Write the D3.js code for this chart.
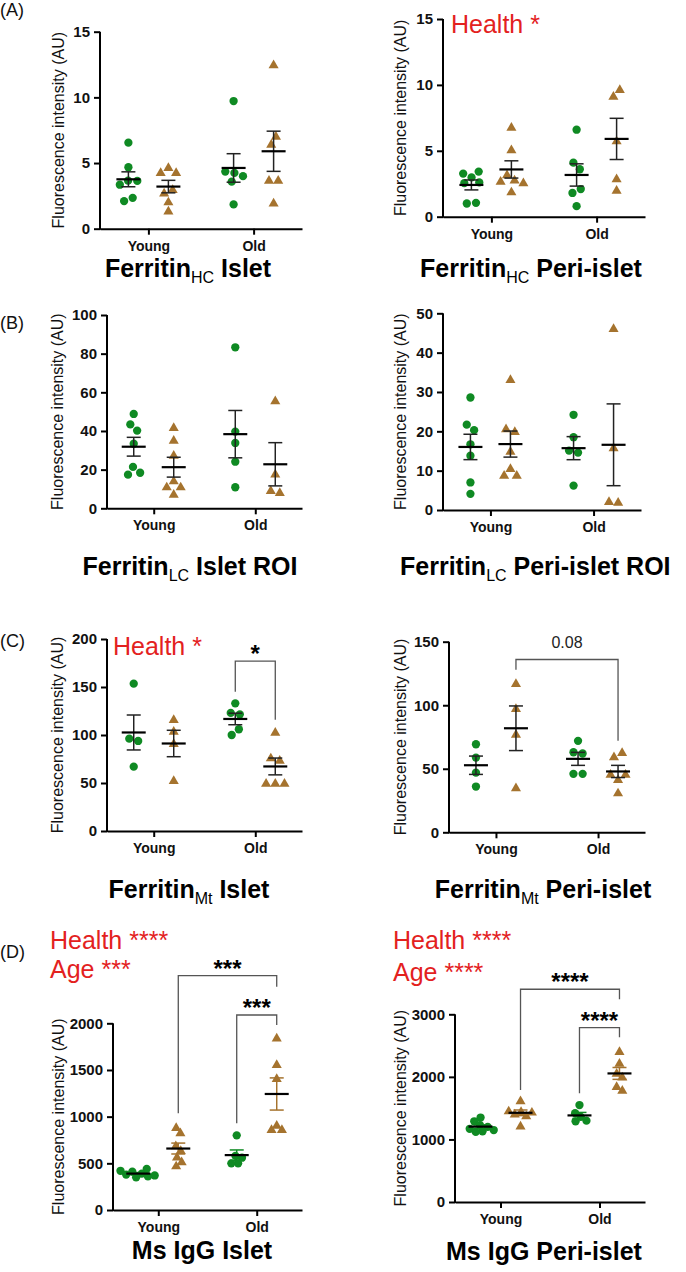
<!DOCTYPE html>
<html>
<head>
<meta charset="utf-8">
<script src="https://cdn.jsdelivr.net/npm/d3@7/dist/d3.min.js"></script>
<style>
  body { margin: 0; background: #fff; }
  svg { display: block; font-family: Arial, "Liberation Sans", sans-serif; }
</style>
</head>
<body>
<svg id="fig" width="686" height="1272"></svg>
<script>
const categories = ['Young', 'Old'];
const groups = ['Healthy', 'T2D'];

// (A) Ferritin HC, islet
const hcIsletYoungHealthy = [6.55, 4.68, 3.66, 3.64, 3.35, 2.35, 2.1];
const hcIsletYoungT2D = [4.68, 4.3, 4.3, 3.0, 2.74, 2.06, 1.37];
const hcIsletOldHealthy = [9.72, 4.35, 4.25, 4.0, 3.58, 1.85];
const hcIsletOldT2D = [12.5, 7.05, 6.45, 3.7, 3.7, 1.98];
// (A) Ferritin HC, peri-islet
const hcPeriYoungHealthy = [3.42, 3.27, 2.98, 2.6, 2.55, 1.05, 1.0];
const hcPeriYoungT2D = [6.8, 5.1, 3.2, 2.8, 2.7, 2.6, 1.9];
const hcPeriOldHealthy = [6.6, 4.1, 3.6, 2.1, 1.8, 0.8];
const hcPeriOldT2D = [9.66, 9.16, 5.77, 2.9, 2.02];
// (B) Ferritin LC, islet ROI
const lcIsletYoungHealthy = [48.8, 43.4, 40.2, 33.4, 21.4, 18.4, 17.4];
const lcIsletYoungT2D = [41.9, 35.3, 27.6, 14.3, 11.2, 11.2, 7.4];
const lcIsletOldHealthy = [83.3, 39.7, 33.8, 24.1, 10.9];
const lcIsletOldT2D = [55.7, 17.8, 9.3, 8.3];
// (B) Ferritin LC, peri-islet ROI
const lcPeriYoungHealthy = [28.6, 21.7, 20.3, 16.7, 13.8, 7.0, 4.1];
const lcPeriYoungT2D = [33.2, 20.7, 20.0, 15.0, 10.6, 8.9, 8.9];
const lcPeriOldHealthy = [24.2, 18.5, 15.1, 14.6, 6.2];
const lcPeriOldT2D = [46.2, 15.9, 2.2, 2.0];
// (C) Ferritin Mt, islet
const mtIsletYoungHealthy = [153.5, 96.2, 93.8, 67];
const mtIsletYoungT2D = [116.3, 104.2, 91.3, 52.8];
const mtIsletOldHealthy = [133, 123, 121.5, 106, 100];
const mtIsletOldT2D = [103, 76.4, 74, 50, 50, 50];
// (C) Ferritin Mt, peri-islet
const mtPeriYoungHealthy = [69.3, 58.8, 47, 36];
const mtPeriYoungT2D = [117.3, 97.6, 77.4, 35.2];
const mtPeriOldHealthy = [72, 63, 62, 46, 46];
const mtPeriOldT2D = [63, 59.6, 45.9, 45.9, 41.7, 31.2];
// (D) Ms IgG, islet
const igIsletYoungHealthy = [440, 420, 410, 390, 380, 370, 360, 350];
const igIsletYoungT2D = [886, 829, 690, 640, 571, 518, 475];
const igIsletOldHealthy = [800, 580, 560, 500, 500];
const igIsletOldT2D = [1846, 1561, 1411, 911, 864, 864];
// (D) Ms IgG, peri-islet
const igPeriYoungHealthy = [1350, 1290, 1230, 1200, 1170, 1150, 1130, 1120];
const igPeriYoungT2D = [1620, 1460, 1450, 1440, 1410, 1380, 1220];
const igPeriOldHealthy = [1550, 1420, 1360, 1300, 1290];
const igPeriOldT2D = [2410, 2220, 2060, 2000, 1850, 1790];

// significance brackets: [fromCat, fromGroup, toCat, toGroup, top, leftEnd, rightEnd, label]
const mtIsletBrackets = [['Old', 'Healthy', 'Old', 'T2D', 177, 145, 116, '*']];
const mtPeriBrackets = [['Young', 'T2D', 'Old', 'T2D', 136, 128, 72, '0.08']];
const igIsletBrackets = [
  ['Young', 'T2D', 'Old', 'T2D', 2510, 1036, 2392, '***'],
  ['Old', 'Healthy', 'Old', 'T2D', 2089, 929, 1982, '***']
];
const igPeriBrackets = [
  ['Young', 'T2D', 'Old', 'T2D', 3400, 1790, 3240, '****'],
  ['Old', 'Healthy', 'Old', 'T2D', 2786, 1737, 2632, '****']
];

const yTicksHC = [0, 5, 10, 15];
const yTicksLCIslet = [0, 20, 40, 60, 80, 100];
const yTicksLCPeri = [0, 10, 20, 30, 40, 50];
const yTicksMtIslet = [0, 50, 100, 150, 200];
const yTicksMtPeri = [0, 50, 100, 150];
const yTicksIgIslet = [0, 500, 1000, 1500, 2000];
const yTicksIgPeri = [0, 1000, 2000, 3000];

function sets(yh, yt, oh, ot) {
  return { Young: { Healthy: yh, T2D: yt }, Old: { Healthy: oh, T2D: ot } };
}

const GREEN = '#0f8a23';
const BROWN = '#a5732e';
const RED = '#e3211e';
const groupColor = { Healthy: GREEN, T2D: BROWN };

const panels = [
  { letter: '(A)', letterY: 16, x0: 100, x1: 302, yTop: 31.7, yZero: 228.7, ticks: yTicksHC,
    labelX: 58, data: sets(hcIsletYoungHealthy, hcIsletYoungT2D, hcIsletOldHealthy, hcIsletOldT2D),
    title: ['Ferritin', 'HC', ' Islet'], titleX: 188, titleY: 277, anchor: 'middle' },
  { x0: 443, x1: 645, yTop: 19, yZero: 216.7, ticks: yTicksHC,
    labelX: 400, data: sets(hcPeriYoungHealthy, hcPeriYoungT2D, hcPeriOldHealthy, hcPeriOldT2D),
    title: ['Ferritin', 'HC', ' Peri-islet'], titleX: 531, titleY: 277, anchor: 'middle',
    notes: [['Health *', 451, 33]] },
  { letter: '(B)', letterY: 329, x0: 107, x1: 302, yTop: 315, yZero: 508.3, ticks: yTicksLCIslet,
    labelX: 57, data: sets(lcIsletYoungHealthy, lcIsletYoungT2D, lcIsletOldHealthy, lcIsletOldT2D),
    title: ['Ferritin', 'LC', ' Islet ROI'], titleX: 190, titleY: 575, anchor: 'middle' },
  { x0: 443, x1: 641, yTop: 313.3, yZero: 510, ticks: yTicksLCPeri,
    labelX: 400, data: sets(lcPeriYoungHealthy, lcPeriYoungT2D, lcPeriOldHealthy, lcPeriOldT2D),
    title: ['Ferritin', 'LC', ' Peri-islet ROI'], titleX: 400, titleY: 575, anchor: 'start' },
  { letter: '(C)', letterY: 647, x0: 107, x1: 302, yTop: 639, yZero: 831, ticks: yTicksMtIslet,
    labelX: 57, data: sets(mtIsletYoungHealthy, mtIsletYoungT2D, mtIsletOldHealthy, mtIsletOldT2D),
    title: ['Ferritin', 'Mt', ' Islet'], titleX: 189, titleY: 898, anchor: 'middle',
    notes: [['Health *', 113, 655]], brackets: mtIsletBrackets },
  { x0: 449, x1: 645, yTop: 641.7, yZero: 832.3, ticks: yTicksMtPeri,
    labelX: 400, data: sets(mtPeriYoungHealthy, mtPeriYoungT2D, mtPeriOldHealthy, mtPeriOldT2D),
    title: ['Ferritin', 'Mt', ' Peri-islet'], titleX: 543, titleY: 898, anchor: 'middle',
    brackets: mtPeriBrackets },
  { letter: '(D)', letterY: 958, x0: 113, x1: 302, yTop: 1023.3, yZero: 1210, ticks: yTicksIgIslet,
    labelX: 58, data: sets(igIsletYoungHealthy, igIsletYoungT2D, igIsletOldHealthy, igIsletOldT2D),
    title: ['Ms IgG Islet'], titleX: 202, titleY: 1259, anchor: 'middle', pack: 3.4,
    notes: [['Health ****', 50, 949], ['Age ***', 50, 978]], brackets: igIsletBrackets, colouredErr: true },
  { x0: 455, x1: 645, yTop: 1014.3, yZero: 1202, ticks: yTicksIgPeri,
    labelX: 400, data: sets(igPeriYoungHealthy, igPeriYoungT2D, igPeriOldHealthy, igPeriOldT2D),
    title: ['Ms IgG Peri-islet'], titleX: 544, titleY: 1260, anchor: 'middle', pack: 3.4,
    notes: [['Health ****', 393, 949], ['Age ****', 393, 981]], brackets: igPeriBrackets, colouredErr: true }
];

const svg = d3.select('#fig');

// beeswarm: y fixed, x pulled towards the group centre, collision keeps markers apart
function swarm(vals, y, cx, radius) {
  const nodes = vals.map(function (v) { return { v: v, fy: y(v) }; });
  const sim = d3.forceSimulation(nodes)
    .force('x', d3.forceX(cx).strength(0.2))
    .force('c', d3.forceCollide(radius))
    .stop();
  for (let i = 0; i < 300; i += 1) sim.tick();
  return nodes;
}

function drawPanel(p) {
  const g = svg.append('g');
  const y = d3.scaleLinear().domain([0, d3.max(p.ticks)]).range([p.yZero, p.yTop]);
  const x = d3.scalePoint().domain(categories).range([p.x0, p.x1]).padding(0.46);
  const sub = d3.scalePoint().domain(groups).range([-20, 20]);

  // axes
  const ya = g.append('g')
    .attr('transform', 'translate(' + p.x0 + ',0)')
    .call(d3.axisLeft(y).tickValues(p.ticks).tickFormat(d3.format('d'))
      .tickSize(6).tickSizeOuter(0).tickPadding(4));
  const xa = g.append('g')
    .attr('transform', 'translate(0,' + p.yZero + ')')
    .call(d3.axisBottom(x).tickSize(6).tickSizeOuter(0).tickPadding(6));
  [ya, xa].forEach(function (a) {
    a.selectAll('path, line').attr('stroke', '#000').attr('stroke-width', 2);
    a.selectAll('text').attr('fill', '#111').attr('font-weight', 'bold');
  });
  ya.selectAll('text').attr('font-size', 15);
  xa.selectAll('text').attr('font-size', 14);
  ya.select('.domain').attr('d', 'M0,' + (p.yZero + 1) + 'V' + p.yTop);

  g.append('text')
    .attr('transform', 'translate(' + p.labelX + ',' + ((p.yTop + p.yZero) / 2) + ') rotate(-90)')
    .attr('text-anchor', 'middle')
    .attr('dy', '0.35em')
    .attr('font-size', 16)
    .attr('fill', '#111')
    .text('Fluorescence intensity (AU)');

  // points
  categories.forEach(function (c) {
    groups.forEach(function (gr) {
      const vals = p.data[c][gr];
      const cx = x(c) + sub(gr);
      const nodes = swarm(vals, y, cx, p.pack || 4.6);
      const sym = d3.symbol().type(gr === 'Healthy' ? d3.symbolCircle : d3.symbolTriangle)
        .size(gr === 'Healthy' ? 54 : 44);
      g.append('g').selectAll('path').data(nodes).join('path')
        .attr('d', sym)
        .attr('transform', function (d) { return 'translate(' + d.x + ',' + (d.fy + (gr === 'T2D' ? 0.8 : 0)) + ')'; })
        .attr('fill', groupColor[gr]);
    });
  });

  // mean +/- SEM
  categories.forEach(function (c) {
    groups.forEach(function (gr) {
      const vals = p.data[c][gr];
      const cx = x(c) + sub(gr);
      const m = d3.mean(vals);
      const sem = d3.deviation(vals) / Math.sqrt(vals.length);
      const ec = p.colouredErr ? groupColor[gr] : '#222';
      const eg = g.append('g').attr('stroke', ec).attr('stroke-width', 1.5).attr('fill', 'none');
      eg.append('line').attr('x1', cx).attr('x2', cx).attr('y1', y(m + sem)).attr('y2', y(m - sem));
      [m + sem, m - sem].forEach(function (v) {
        eg.append('line').attr('x1', cx - 7).attr('x2', cx + 7).attr('y1', y(v)).attr('y2', y(v));
      });
      g.append('line')
        .attr('x1', cx - 12).attr('x2', cx + 12).attr('y1', y(m)).attr('y2', y(m))
        .attr('stroke', '#000').attr('stroke-width', 2.2);
    });
  });

  // brackets
  (p.brackets || []).forEach(function (b) {
    const xl = x(b[0]) + sub(b[1]);
    const xr = x(b[2]) + sub(b[3]);
    const yt = y(b[4]);
    g.append('path')
      .attr('d', 'M' + xl + ',' + y(b[5]) + 'V' + yt + 'H' + xr + 'V' + y(b[6]))
      .attr('fill', 'none').attr('stroke', '#555').attr('stroke-width', 1.3);
    const isStar = b[7].indexOf('*') === 0;
    g.append('text')
      .attr('x', (xl + xr) / 2)
      .attr('y', isStar ? yt + 1 : yt - 11)
      .attr('text-anchor', 'middle')
      .attr('font-size', isStar ? 24 : 16)
      .attr('font-weight', isStar ? 'bold' : 'normal')
      .attr('fill', isStar ? '#000' : '#222')
      .text(b[7]);
  });

  // red statistics notes
  (p.notes || []).forEach(function (n) {
    g.append('text').attr('x', n[1]).attr('y', n[2])
      .attr('font-size', 25).attr('fill', RED).text(n[0]);
  });

  // title
  const t = g.append('text')
    .attr('x', p.titleX).attr('y', p.titleY)
    .attr('text-anchor', p.anchor)
    .attr('font-size', 25).attr('font-weight', 'bold').attr('fill', '#000');
  t.append('tspan').text(p.title[0]);
  if (p.title.length > 1) {
    t.append('tspan').attr('dy', 6).attr('font-size', 16).attr('font-weight', 'normal').text(p.title[1]);
    t.append('tspan').attr('dy', -6).text(p.title[2]);
  }

  if (p.letter) {
    svg.append('text').attr('x', 0).attr('y', p.letterY)
      .attr('font-size', 18).attr('fill', '#111').text(p.letter);
  }
}

panels.forEach(drawPanel);
</script>
</body>
</html>
